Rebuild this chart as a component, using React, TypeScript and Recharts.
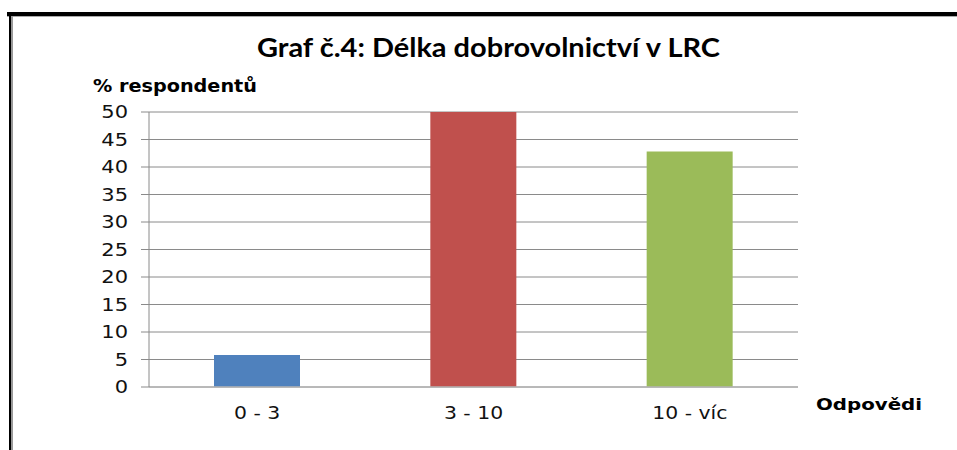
import React from 'react';
import { BarChart, Bar, XAxis, YAxis, CartesianGrid, Cell } from 'recharts';

const categories = ['0 - 3', '3 - 10', '10 - víc'];
const values = [5.8, 50, 42.8];
const barColors = ['#4F81BD', '#C0504D', '#9BBB59'];
const yTicks = [0, 5, 10, 15, 20, 25, 30, 35, 40, 45, 50];
const titleText = 'Graf č.4: Délka dobrovolnictví v LRC';
const yAxisTitle = '% respondentů';
const xAxisTitle = 'Odpovědi';

const data = categories.map((c, i) => ({ name: c, value: values[i] }));

const YTick = (props: any) => {
  const { x, y, payload } = props;
  return (
    <text
      transform={`translate(${x},${y}) scale(1.2,1)`}
      textAnchor="end"
      dy="0.36em"
      fontFamily="DejaVu Sans"
      fontSize={17.5}
      fill="#111"
    >
      {payload.value}
    </text>
  );
};

const XTick = (props: any) => {
  const { x, y, payload } = props;
  return (
    <text
      transform={`translate(${x},${y + 32}) scale(1.2,1)`}
      textAnchor="middle"
      fontFamily="DejaVu Sans"
      fontSize={17}
      fill="#111"
    >
      {payload.value}
    </text>
  );
};

export default function App() {
  return (
    <div style={{ position: 'absolute', left: 0, top: 0, width: 957, height: 450, background: '#fff' }}>
      <BarChart
        width={957}
        height={450}
        data={data}
        margin={{ top: 112, right: 159, bottom: 0, left: 0 }}
      >
        <CartesianGrid vertical={false} stroke="#8a8a8a" strokeWidth={1} />
        <XAxis
          dataKey="name"
          height={63}
          tickLine={false}
          tickSize={0}
          tickMargin={0}
          axisLine={{ stroke: '#b5b5b5', strokeWidth: 1.5 }}
          tick={<XTick />}
          interval={0}
        />
        <YAxis
          width={149}
          domain={[0, 50]}
          ticks={yTicks}
          interval={0}
          tickSize={8}
          tickMargin={13}
          tickLine={{ stroke: '#8a8a8a' }}
          axisLine={{ stroke: '#8a8a8a' }}
          tick={<YTick />}
          allowDataOverflow
        />
        <Bar dataKey="value" barSize={86} isAnimationActive={false}>
          {data.map((d, i) => (
            <Cell key={d.name} fill={barColors[i]} />
          ))}
        </Bar>
      </BarChart>
      <svg
        width={957}
        height={450}
        style={{ position: 'absolute', left: 0, top: 0, pointerEvents: 'none' }}
      >
        <rect x={7} y={12} width={950} height={4} fill="#000" />
        <rect x={7} y={16} width={950} height={1} fill="#aaa" />
        <rect x={9} y={16} width={2} height={434} fill="#000" />
        <rect x={11} y={16} width={2} height={434} fill="#999" />
        <text
          x={257}
          y={57}
          fontFamily="Lato"
          fontWeight="bold"
          fontSize={26}
          fill="#000"
          textLength={463}
          lengthAdjust="spacingAndGlyphs"
        >
          {titleText}
        </text>
        <text
          x={93}
          y={92}
          fontFamily="DejaVu Sans"
          fontWeight="bold"
          fontSize={18.5}
          fill="#000"
          textLength={164}
          lengthAdjust="spacingAndGlyphs"
        >
          {yAxisTitle}
        </text>
        <text
          x={816}
          y={410}
          fontFamily="DejaVu Sans"
          fontWeight="bold"
          fontSize={16.5}
          fill="#000"
          textLength={106}
          lengthAdjust="spacingAndGlyphs"
        >
          {xAxisTitle}
        </text>
      </svg>
    </div>
  );
}
